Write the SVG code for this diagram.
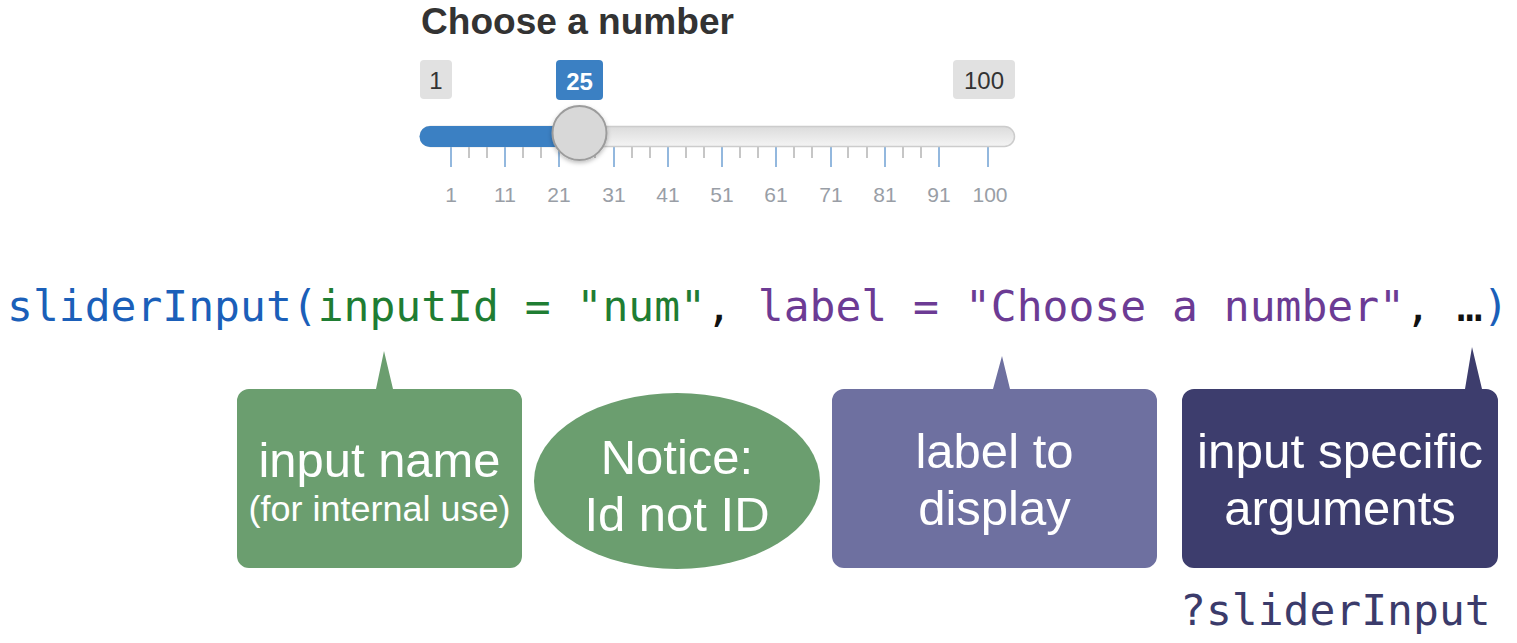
<svg xmlns="http://www.w3.org/2000/svg" width="1517" height="643" viewBox="0 0 1517 643">
<defs>
<style>
.title{font-family:"Liberation Sans",Arial,sans-serif;font-weight:bold;font-size:36px;fill:#333333}
.lab{font-family:"Liberation Sans",Arial,sans-serif;font-size:24px;fill:#333333;text-anchor:middle}
.grid{font-family:"Liberation Sans",Arial,sans-serif;font-size:21px;fill:#999ea6;text-anchor:middle}
.major{stroke:#93b8de;stroke-width:2}
.minor{stroke:#c6c6c6;stroke-width:2}
.code{font-family:"DejaVu Sans Mono","Liberation Mono",monospace;font-size:43px}
.big{font-family:"Liberation Sans",Arial,sans-serif;font-size:49px;fill:#ffffff;text-anchor:middle}
.small{font-family:"Liberation Sans",Arial,sans-serif;font-size:35px;fill:#ffffff;text-anchor:middle}
</style>
<linearGradient id="bar" x1="0" y1="0" x2="0" y2="1">
<stop offset="0" stop-color="#dcdcdc"/>
<stop offset="1" stop-color="#f4f4f4"/>
</linearGradient>
<filter id="sh" x="-30%" y="-30%" width="160%" height="170%">
<feDropShadow dx="0" dy="2" stdDeviation="2" flood-color="#000" flood-opacity="0.25"/>
</filter>
</defs>
<rect width="1517" height="643" fill="#ffffff"/>

<g id="slider">
<text class="title" x="421" y="34" textLength="313" lengthAdjust="spacingAndGlyphs">Choose a number</text>
<rect x="420" y="60" width="32" height="39" rx="4" fill="#e1e1e1"/>
<text class="lab" x="436" y="89">1</text>
<rect x="556" y="60" width="47" height="40" rx="4" fill="#3b80c3"/>
<text class="lab" x="579.5" y="90" style="fill:#ffffff;font-weight:bold">25</text>
<rect x="953" y="60" width="62" height="39" rx="4" fill="#e1e1e1"/>
<text class="lab" x="984" y="89">100</text>

<g>
<line class="minor" x1="469" y1="147" x2="469" y2="158"/><line class="minor" x1="487" y1="147" x2="487" y2="158"/>
<line class="minor" x1="523" y1="147" x2="523" y2="158"/><line class="minor" x1="541" y1="147" x2="541" y2="158"/>
<line class="minor" x1="577" y1="147" x2="577" y2="158"/><line class="minor" x1="595" y1="147" x2="595" y2="158"/>
<line class="minor" x1="632" y1="147" x2="632" y2="158"/><line class="minor" x1="650" y1="147" x2="650" y2="158"/>
<line class="minor" x1="686" y1="147" x2="686" y2="158"/><line class="minor" x1="704" y1="147" x2="704" y2="158"/>
<line class="minor" x1="740" y1="147" x2="740" y2="158"/><line class="minor" x1="758" y1="147" x2="758" y2="158"/>
<line class="minor" x1="794" y1="147" x2="794" y2="158"/><line class="minor" x1="812" y1="147" x2="812" y2="158"/>
<line class="minor" x1="848" y1="147" x2="848" y2="158"/><line class="minor" x1="867" y1="147" x2="867" y2="158"/>
<line class="minor" x1="903" y1="147" x2="903" y2="158"/><line class="minor" x1="921" y1="147" x2="921" y2="158"/>
<line class="major" x1="451" y1="147" x2="451" y2="167"/>
<line class="major" x1="505" y1="147" x2="505" y2="167"/>
<line class="major" x1="559" y1="147" x2="559" y2="167"/>
<line class="major" x1="614" y1="147" x2="614" y2="167"/>
<line class="major" x1="668" y1="147" x2="668" y2="167"/>
<line class="major" x1="722" y1="147" x2="722" y2="167"/>
<line class="major" x1="776" y1="147" x2="776" y2="167"/>
<line class="major" x1="831" y1="147" x2="831" y2="167"/>
<line class="major" x1="885" y1="147" x2="885" y2="167"/>
<line class="major" x1="939" y1="147" x2="939" y2="167"/>
<line class="major" x1="988" y1="147" x2="988" y2="167"/>
</g>
<g>
<text class="grid" x="451" y="202">1</text>
<text class="grid" x="505" y="202">11</text>
<text class="grid" x="559" y="202">21</text>
<text class="grid" x="614" y="202">31</text>
<text class="grid" x="668" y="202">41</text>
<text class="grid" x="722" y="202">51</text>
<text class="grid" x="776" y="202">61</text>
<text class="grid" x="831" y="202">71</text>
<text class="grid" x="885" y="202">81</text>
<text class="grid" x="939" y="202">91</text>
<text class="grid" x="990" y="202">100</text>
</g>

<rect x="420.5" y="126.5" width="594" height="20" rx="10" fill="url(#bar)" stroke="#cccccc" stroke-width="1.5"/>
<path d="M430 126 H582 V147 H430 A10.5 10.5 0 0 1 430 126 Z" fill="#3b80c3"/>
<circle cx="579.5" cy="133" r="27" fill="#d8d8d8" stroke="#9c9c9c" stroke-width="2" filter="url(#sh)"/>
</g>

<text class="code" x="7" y="321" xml:space="preserve"><tspan fill="#1b5fb9">sliderInput(</tspan><tspan fill="#1f7d33">inputId = "num"</tspan><tspan fill="#111111">, </tspan><tspan fill="#6c3b94">label = "Choose a number"</tspan><tspan fill="#111111">, …</tspan><tspan fill="#1b5fb9">)</tspan></text>

<g id="connectors"></g>

<g id="node-input-name">
<path d="M249 389 H376 L384 351 L393 389 H510 A12 12 0 0 1 522 401 V556 A12 12 0 0 1 510 568 H249 A12 12 0 0 1 237 556 V401 A12 12 0 0 1 249 389 Z" fill="#6b9e6f"/>
<text class="big" x="379.5" y="477" textLength="242" lengthAdjust="spacingAndGlyphs">input name</text>
<text class="small" x="379.5" y="521" textLength="262" lengthAdjust="spacingAndGlyphs">(for internal use)</text>
</g>

<g id="node-notice">
<ellipse cx="677" cy="481" rx="143" ry="88" fill="#6b9e6f"/>
<text class="big" x="677" y="474">Notice:</text>
<text class="big" x="677" y="531">Id not ID</text>
</g>

<g id="node-label">
<path d="M844 389 H993 L1002 356 L1010 389 H1145 A12 12 0 0 1 1157 401 V556 A12 12 0 0 1 1145 568 H844 A12 12 0 0 1 832 556 V401 A12 12 0 0 1 844 389 Z" fill="#6e70a0"/>
<text class="big" x="994.5" y="468">label to</text>
<text class="big" x="994.5" y="525">display</text>
</g>

<g id="node-args">
<path d="M1194 389 H1465 L1472 347 L1482 389 H1486 A12 12 0 0 1 1498 401 V556 A12 12 0 0 1 1486 568 H1194 A12 12 0 0 1 1182 556 V401 A12 12 0 0 1 1194 389 Z" fill="#3d3d6d"/>
<text class="big" x="1340" y="468" textLength="286" lengthAdjust="spacingAndGlyphs">input specific</text>
<text class="big" x="1340" y="525">arguments</text>
</g>

<text class="code" x="1180" y="625" fill="#3b3b6b">?sliderInput</text>
</svg>
